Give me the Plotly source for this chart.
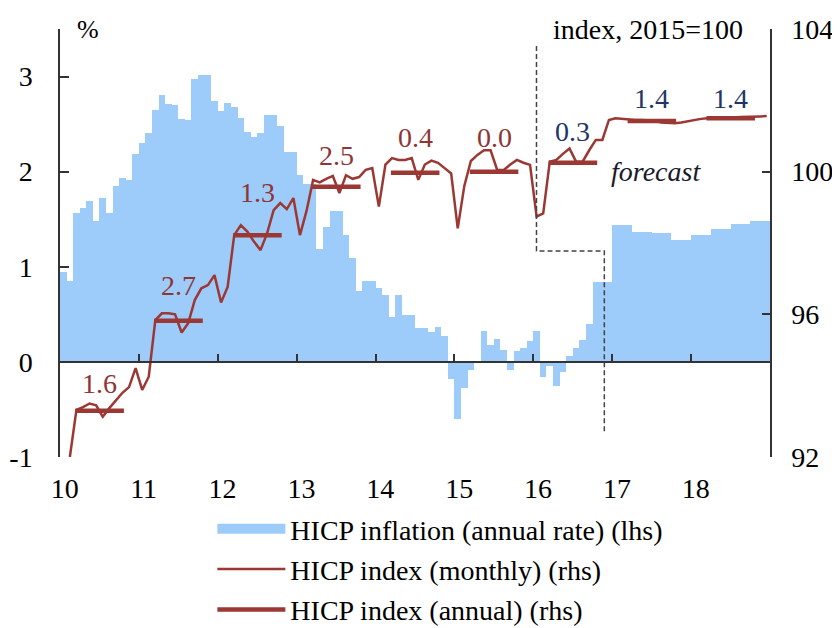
import plotly.graph_objects as go

# ---------------- data ----------------
YEARS = [2010, 2011, 2012, 2013, 2014, 2015, 2016, 2017, 2018]
YEAR_LABELS = ["10", "11", "12", "13", "14", "15", "16", "17", "18"]
LEFT_TICKS = [-1, 0, 1, 2, 3]
LEFT_TICK_LABELS = ["-1", "0", "1", "2", "3"]
RIGHT_TICKS = [92, 96, 100, 104]

# HICP inflation, annual rate (%), monthly Jan 2010 - Dec 2016
INFLATION_MONTHLY = [
    0.94, 0.85, 1.57, 1.62, 1.69, 1.48, 1.72, 1.57, 1.85, 1.93, 1.91, 2.19,   # 2010
    2.30, 2.41, 2.65, 2.81, 2.71, 2.70, 2.55, 2.54, 2.97, 3.02, 3.02, 2.74,   # 2011
    2.64, 2.72, 2.68, 2.56, 2.42, 2.36, 2.41, 2.60, 2.60, 2.48, 2.21, 2.21,   # 2012
    1.97, 1.87, 1.87, 1.19, 1.42, 1.59, 1.59, 1.33, 1.09, 0.75, 0.85, 0.85,   # 2013
    0.78, 0.70, 0.47, 0.70, 0.49, 0.49, 0.36, 0.36, 0.31, 0.37, 0.27, -0.18,  # 2014
    -0.60, -0.27, -0.09, 0.00, 0.33, 0.18, 0.24, 0.12, -0.09, 0.11, 0.15, 0.22,  # 2015
    0.32, -0.16, -0.04, -0.25, -0.11, 0.06, 0.15, 0.23, 0.40, 0.84, 0.84, 0.84,  # 2016
]
# forecast, quarterly 2017Q1 - 2018Q4
INFLATION_QUARTERLY_FCST = [1.44, 1.37, 1.35, 1.28, 1.33, 1.40, 1.45, 1.48]

# HICP index (2015=100), monthly
HICP_INDEX_MONTHLY = [
    92.00, 93.32, 93.40, 93.50, 93.45, 93.13, 93.37, 93.60, 93.80, 93.96, 94.49, 93.88,
    94.25, 95.84, 96.03, 96.03, 96.00, 95.49, 95.75, 96.40, 96.73, 96.82, 97.10, 96.33,
    96.77, 98.22, 98.50, 98.32, 98.04, 97.80, 98.27, 98.92, 99.12, 98.95, 99.26, 98.22,
    98.90, 99.77, 99.70, 99.80, 99.88, 99.40, 99.90, 99.80, 99.85, 100.05, 100.10, 99.02,
    100.20, 100.38, 100.33, 100.33, 100.38, 99.77, 100.20, 100.31, 100.25, 100.10, 99.95, 98.41,
    99.60, 100.30, 100.47, 100.60, 100.60, 100.05, 100.05, 100.20, 100.33, 100.25, 100.19, 98.74,
    98.83, 100.28, 100.33, 100.50, 100.65, 100.28, 100.28, 100.60, 100.89, 100.89, 101.45, 101.50,
    101.48, 101.45, 101.45, 101.45, 101.44, 101.42, 101.38, 101.36, 101.36, 101.38, 101.42, 101.46,
    101.48, 101.50, 101.50, 101.50, 101.52, 101.52, 101.53, 101.53, 101.54, 101.55, 101.56,
]
# HICP index, annual averages
HICP_INDEX_ANNUAL = [93.30, 95.82, 98.22, 99.58, 99.97, 100.00, 100.25, 101.42, 101.50]
ANNUAL_RATE_LABELS = ["1.6", "2.7", "1.3", "2.5", "0.4", "0.0", "0.3", "1.4", "1.4"]
LABEL_IS_PROJECTION = [False, False, False, False, False, False, True, True, True]

# ---------------- styling ----------------
BAR_COLOR = "#9DCBFA"
LINE_COLOR = "#9B3833"
LABEL_RED = "#8E3636"
LABEL_BLUE = "#233564"
AXIS_COLOR = "#333333"
FONT = "Liberation Serif"
FS = 28
LINE_OFFSET_MONTHS = 1.5
SEG_START, SEG_END = 0.195, 0.81
LABEL_DY = [0.77, 1.0, 1.21, 0.86, 1.0, 0.97, 0.89, 0.62, 0.54]

# ---------------- derived series ----------------
inflation = list(INFLATION_MONTHLY)
for q in INFLATION_QUARTERLY_FCST:
    inflation += [q, q, q]
bar_x = [YEARS[0] + (i + 0.5) / 12 for i in range(len(inflation))]
line_x = [YEARS[0] + (k + LINE_OFFSET_MONTHS) / 12 for k in range(len(HICP_INDEX_MONTHLY))]

seg_x, seg_y = [], []
for yr, v in zip(YEARS, HICP_INDEX_ANNUAL):
    seg_x += [yr + SEG_START, yr + SEG_END, None]
    seg_y += [v, v, None]

fig = go.Figure()

fig.add_trace(go.Bar(
    x=bar_x, y=inflation, width=1 / 12, marker=dict(color=BAR_COLOR, line=dict(width=0)),
    xaxis="x", yaxis="y", showlegend=False, name="HICP inflation (annual rate) (lhs)",
))
# legend proxy for the bars (wide rectangle)
fig.add_trace(go.Scatter(
    x=[None], y=[None], mode="lines", line=dict(color=BAR_COLOR, width=13),
    name="HICP inflation (annual rate) (lhs)", legendgroup="a", xaxis="x", yaxis="y",
))
fig.add_trace(go.Scatter(
    x=line_x, y=HICP_INDEX_MONTHLY, mode="lines", line=dict(color=LINE_COLOR, width=2.5),
    name="HICP index (monthly) (rhs)", legendgroup="b", xaxis="x", yaxis="y2",
))
fig.add_trace(go.Scatter(
    x=seg_x, y=seg_y, mode="lines", line=dict(color=LINE_COLOR, width=4.5),
    name="HICP index (annual) (rhs)", legendgroup="c", xaxis="x", yaxis="y2",
))

annotations = []
for yr, v, lab, proj, dy in zip(YEARS, HICP_INDEX_ANNUAL, ANNUAL_RATE_LABELS, LABEL_IS_PROJECTION, LABEL_DY):
    annotations.append(dict(
        x=yr + (SEG_START + SEG_END) / 2, y=v + dy, xref="x", yref="y2", text=lab,
        showarrow=False, xanchor="center", yanchor="middle",
        font=dict(family=FONT, size=FS, color=LABEL_BLUE if proj else LABEL_RED),
    ))
annotations.append(dict(x=2017.56, y=2.0, xref="x", yref="y", text="<i>forecast</i>",
                        showarrow=False, font=dict(family=FONT, size=FS, color="#1a1a2a")))
annotations.append(dict(x=0.039, y=1.0, xref="paper", yref="paper", text="%",
                        showarrow=False, xanchor="center", yanchor="middle",
                        font=dict(family=FONT, size=FS - 2, color="black")))
annotations.append(dict(x=0.965, y=1.0, xref="paper", yref="paper", text="index, 2015=100",
                        showarrow=False, xanchor="right", yanchor="middle",
                        font=dict(family=FONT, size=FS, color="black")))

shapes = [dict(
    type="path", xref="x", yref="y",
    path="M 2016.04,3.32 L 2016.04,1.165 L 2016.9,1.165 L 2016.9,-0.755",
    line=dict(color="#444444", width=1.5, dash="5px,3px"), layer="above",
)]

tickfont = dict(family=FONT, size=FS, color="black")
# the page places the figure 8px from the top-left corner (default body margin),
# so the figure is 8px smaller and the margins are reduced accordingly
fig.update_layout(
    width=832, height=620, autosize=False,
    margin=dict(l=52, r=70, t=21, b=171),
    paper_bgcolor="white", plot_bgcolor="white",
    bargap=0,
    font=dict(family=FONT, size=FS, color="black"),
    xaxis=dict(range=[2010, 2019], tickvals=[y + 0.06 for y in YEARS], ticktext=YEAR_LABELS,
               ticks="", showline=False, showgrid=False, zeroline=False, automargin=False,
               tickfont=tickfont, ticklabelstandoff=12),
    xaxis2=dict(range=[2010, 2019], overlaying="x", anchor="free", position=1 / 4.5,
                tickvals=YEARS + [2019], ticks="inside", ticklen=7, tickwidth=1.5, tickcolor=AXIS_COLOR,
                showticklabels=False, showline=True, linecolor=AXIS_COLOR, linewidth=1.5,
                showgrid=False, zeroline=False, automargin=False),
    yaxis=dict(range=[-1, 3.5], tickvals=LEFT_TICKS, ticktext=LEFT_TICK_LABELS,
               ticks="inside", ticklen=9, tickwidth=1.5,
               tickcolor=AXIS_COLOR, showline=True, linecolor=AXIS_COLOR, linewidth=1.5,
               showgrid=False, zeroline=False, tickfont=tickfont, ticklabelstandoff=20,
               automargin=False),
    yaxis2=dict(range=[92, 104], tickvals=RIGHT_TICKS, overlaying="y", side="right",
                ticks="inside", ticklen=8, tickwidth=1.5, tickcolor=AXIS_COLOR,
                showline=True, linecolor=AXIS_COLOR, linewidth=1.5,
                showgrid=False, zeroline=False, tickfont=tickfont, ticklabelstandoff=14,
                automargin=False),
    legend=dict(x=0.2146, y=0.2, xref="paper", yref="container",
                xanchor="left", yanchor="top", orientation="v",
                font=dict(family=FONT, size=FS, color="black"), itemwidth=68,
                tracegroupgap=1, bgcolor="rgba(0,0,0,0)"),
    annotations=annotations,
    shapes=shapes,
)
# keep x2 axis alive
fig.add_trace(go.Scatter(x=[2010, 2019], y=[None, None], xaxis="x2", yaxis="y",
                         showlegend=False, hoverinfo="skip"))

fig.write_html("out.html")
